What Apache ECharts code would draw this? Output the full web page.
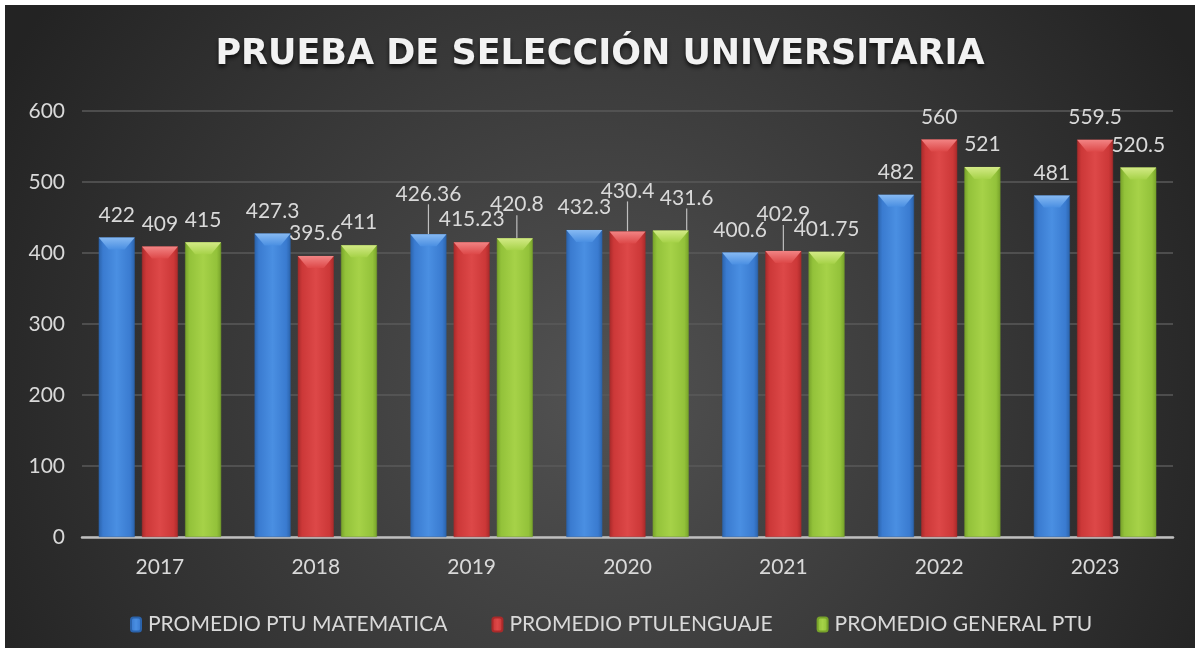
<!DOCTYPE html>
<html>
<head>
<meta charset="utf-8">
<script src="https://cdn.jsdelivr.net/npm/echarts@6/dist/echarts.min.js"></script>
<style>
  html, body { margin: 0; padding: 0; background: #fff; }
  #chart { position: absolute; left: 5px; top: 5px; width: 1190px; height: 643px; }
</style>
</head>
<body>
<div id="chart"></div>
<script>
// datos
const years = ['2017', '2018', '2019', '2020', '2021', '2022', '2023'];
const matematica = [422, 427.3, 426.36, 432.3, 400.6, 482, 481];
const lenguaje = [409, 395.6, 415.23, 430.4, 402.9, 560, 559.5];
const general = [415, 411, 420.8, 431.6, 401.75, 521, 520.5];
const seriesNames = ['PROMEDIO PTU MATEMATICA', 'PROMEDIO PTULENGUAJE', 'PROMEDIO GENERAL PTU'];

// desplazamiento de etiquetas que Excel movio (con linea guia)
const labelNudge = [
  { 2: [0, -18] },
  { 3: [0, -18], 4: [0, -14] },
  { 2: [2, -11], 3: [16, -10] }
];

const palette = [
  { dark: '#2b63ab', base: '#3a7bd0', light: '#4a8fe2', cap: '#86b9f2' },
  { dark: '#a92a2a', base: '#cc3838', light: '#dd4848', cap: '#f28484' },
  { dark: '#77a22a', base: '#93c23a', light: '#a6d248', cap: '#d3ea86' }
];

function barFill(c) {
  return {
    type: 'linear', x: 0, y: 0, x2: 1, y2: 0,
    colorStops: [
      { offset: 0, color: c.dark },
      { offset: 0.12, color: c.base },
      { offset: 0.5, color: c.light },
      { offset: 0.88, color: c.base },
      { offset: 1, color: c.dark }
    ]
  };
}

const chart = echarts.init(document.getElementById('chart'));
const allData = [matematica, lenguaje, general];

const bars = allData.map(function (vals, s) {
  return {
    name: seriesNames[s],
    type: 'bar',
    // solo las etiquetas movidas llevan linea guia
    data: vals.map(function (v, i) {
      return { value: v, labelLine: { show: !!labelNudge[s][i] } };
    }),
    barWidth: 36,
    barGap: '20%',
    itemStyle: { color: barFill(palette[s]), borderColor: palette[s].dark, borderWidth: 0.5 },
    label: {
      show: true,
      position: 'top',
      distance: 12,
      color: '#d9d9d9',
      fontFamily: 'Lato',
      fontSize: 21
    },
    labelLine: { show: false, lineStyle: { color: '#bfbfbf', width: 1.2 } },
    labelLayout: function (p) {
      const n = labelNudge[s][p.dataIndex];
      return n ? { dx: n[0], dy: n[1] } : {};
    },
    z: 2
  };
});

const caps = allData.map(function (vals, s) {
  return {
    name: seriesNames[s] + ' cap',
    type: 'pictorialBar',
    data: vals,
    barWidth: 36,
    barGap: '20%',
    symbol: 'path://M0,0 L36,0 L26,12 L10,12 Z',
    symbolSize: [36, 12],
    symbolPosition: 'end',
    silent: true,
    itemStyle: {
      color: {
        type: 'linear', x: 0, y: 0, x2: 0, y2: 1,
        colorStops: [
          { offset: 0, color: palette[s].cap },
          { offset: 1, color: palette[s].light }
        ]
      }
    },
    z: 3
  };
});

chart.setOption({
  backgroundColor: {
    type: 'radial', x: 0.5, y: 0.6, r: 1.05,
    colorStops: [
      { offset: 0, color: '#525252' },
      { offset: 1, color: '#232323' }
    ]
  },
  animation: false,
  title: {
    text: 'PRUEBA DE SELECCIÓN UNIVERSITARIA',
    left: 'center',
    top: 27,
    textStyle: {
      color: '#f2f2f2',
      fontFamily: 'DejaVu Sans',
      fontWeight: 'bold',
      fontSize: 35,
      textShadowColor: 'rgba(0,0,0,0.7)',
      textShadowBlur: 4,
      textShadowOffsetY: 3
    }
  },
  legend: {
    data: seriesNames,
    left: 120,
    top: 604,
    itemWidth: 10,
    itemHeight: 14,
    itemGap: 44,
    textStyle: { color: '#d9d9d9', fontFamily: 'Lato', fontSize: 21, padding: [0, 0, 0, 2] }
  },
  grid: { left: 77, right: 22, top: 106, bottom: 111 },
  xAxis: {
    type: 'category',
    data: years,
    axisTick: { show: false },
    axisLine: { lineStyle: { color: '#bfbfbf', width: 2.5 } },
    axisLabel: { color: '#d9d9d9', fontFamily: 'Lato', fontSize: 21, margin: 20 }
  },
  yAxis: {
    type: 'value',
    min: 0,
    max: 600,
    interval: 100,
    axisLine: { show: false },
    axisTick: { show: false },
    splitLine: { lineStyle: { color: '#5a5a5a', width: 1.5 } },
    axisLabel: { color: '#d9d9d9', fontFamily: 'Lato', fontSize: 21, margin: 17 }
  },
  series: bars.concat(caps)
});
</script>
</body>
</html>
